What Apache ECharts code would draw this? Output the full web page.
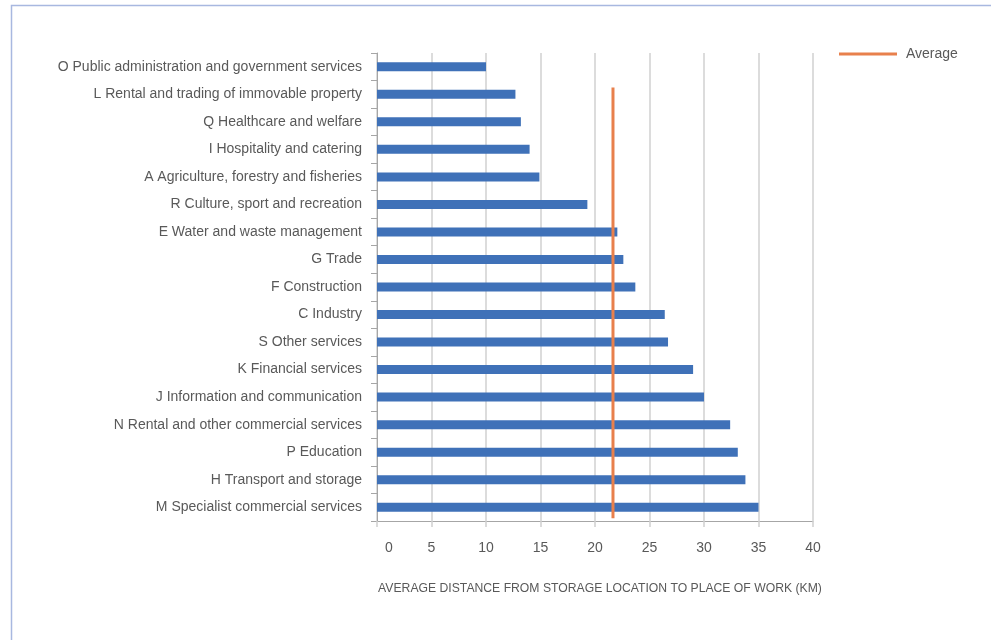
<!DOCTYPE html>
<html>
<head>
<meta charset="utf-8">
<script src="https://cdn.jsdelivr.net/npm/echarts@6/dist/echarts.min.js"></script>
<style>
html,body{margin:0;padding:0;background:#fff;}
#c{width:991px;height:640px;}
</style>
</head>
<body>
<div id="c"></div>
<script>
var categories = [
  "O Public administration and government services",
  "L Rental and trading of immovable property",
  "Q Healthcare and welfare",
  "I Hospitality and catering",
  "A Agriculture, forestry and fisheries",
  "R Culture, sport and recreation",
  "E Water and waste management",
  "G Trade",
  "F Construction",
  "C Industry",
  "S Other services",
  "K Financial services",
  "J Information and communication",
  "N Rental and other commercial services",
  "P Education",
  "H Transport and storage",
  "M Specialist commercial services"
];
var distances = [10.0, 12.7, 13.2, 14.0, 14.9, 19.3, 22.05, 22.6, 23.7, 26.4, 26.7, 29.0, 30.0, 32.4, 33.1, 33.8, 35.0];
var averageValue = 21.65;
var averageLineX = [averageValue, averageValue];
var averageLineY = [0.1, 15.75];
var xTicks = [0, 5, 10, 15, 20, 25, 30, 35, 40];
var axisTitle = "AVERAGE DISTANCE FROM STORAGE LOCATION TO PLACE OF WORK (KM)";
var legendLabel = "Average";

var FONT = "'Liberation Sans Narrow', 'Liberation Sans', sans-serif";
var TEXT = "#595959";
var chart = echarts.init(document.getElementById('c'), null, {renderer: 'canvas'});
chart.setOption({
  backgroundColor: '#ffffff',
  animation: false,
  textStyle: {fontFamily: FONT, color: TEXT},
  graphic: [{
    type: 'rect', z: -1,
    shape: {x: 11.5, y: 5.5, width: 1200, height: 1200},
    style: {fill: 'none', stroke: '#a8b8e0', lineWidth: 1.5}
  }, {
    type: 'text', x: 600, y: 589,
    style: {text: axisTitle, font: '12.2px ' + FONT, fill: TEXT, align: 'center', verticalAlign: 'middle'}
  }],
  legend: {
    left: 839, top: 47, padding: 0,
    itemWidth: 58, itemHeight: 3,
    icon: 'rect',
    textStyle: {fontFamily: FONT, fontSize: 14, color: TEXT, padding: [0,0,0,4]},
    data: [{name: legendLabel}]
  },
  grid: {left: 377, right: 178, top: 53, bottom: 119, containLabel: false},
  xAxis: {
    type: 'value', min: xTicks[0], max: xTicks[xTicks.length-1], interval: 5,
    axisLine: {show: true, lineStyle: {color: '#a6a6a6', width: 1}},
    axisTick: {show: true, length: 6, lineStyle: {color: '#d0d0d0', width: 1.5}},
    splitLine: {show: true, lineStyle: {color: '#d0d0d0', width: 1.5}},
    axisLabel: {
      fontFamily: FONT, fontSize: 14, color: TEXT, margin: 20,
      formatter: function (v) { return v === 0 ? '{z|0}' : String(v); },
      rich: {z: {fontFamily: FONT, fontSize: 14, color: TEXT, padding: [0, 0, 0, 24]}}
    }
  },
  yAxis: [{
    type: 'category', inverse: true, data: categories,
    axisLine: {show: true, lineStyle: {color: '#a6a6a6', width: 1}},
    axisTick: {show: true, length: 6, lineStyle: {color: '#a6a6a6'}},
    axisLabel: {fontFamily: FONT, fontSize: 14, color: TEXT, margin: 15},
    splitLine: {show: false}
  }, {
    type: 'value', min: 0, max: 17, show: false,
    splitLine: {show: false}
  }],
  series: [{
    type: 'bar', name: 'Distance', data: distances,
    barWidth: 9, yAxisIndex: 0,
    itemStyle: {color: '#3f71b8'}
  }, {
    type: 'line', name: legendLabel, yAxisIndex: 1,
    data: [[averageLineX[0], averageLineY[0]], [averageLineX[1], averageLineY[1]]],
    symbol: 'none', lineStyle: {color: '#e8804c', width: 3},
    itemStyle: {color: '#e8804c'}, z: 5
  }]
});
</script>
</body>
</html>
